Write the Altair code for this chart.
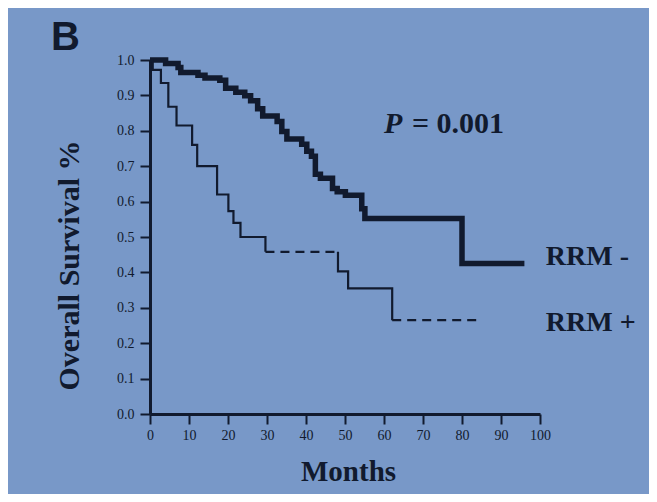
import altair as alt
import pandas as pd

# ---- data ----
rrm_neg_months = [0, 4.0, 7.2, 7.9, 12.3, 14.1, 17.9, 19.4, 22.0, 24.3, 25.8, 27.6, 28.9,
                  32.6, 33.8, 35.1, 38.9, 40.2, 41.4, 42.4, 43.7, 46.8, 48.0, 50.1,
                  54.3, 55.1, 80.0, 96.0]
rrm_neg_surv = [1.0, 0.99, 0.979, 0.965, 0.957, 0.949, 0.943, 0.92, 0.909, 0.899, 0.885, 0.862, 0.842,
                0.826, 0.798, 0.777, 0.762, 0.742, 0.728, 0.677, 0.666, 0.637, 0.628, 0.618,
                0.58, 0.552, 0.425, 0.425]

rrm_pos_months = [0, 0.7, 2.8, 4.7, 6.8, 10.8, 12.1, 17.2, 20.1, 21.4, 23.2, 29.6,
                  48.2, 48.2, 50.8, 62.1, 84.6]
rrm_pos_surv = [1.0, 0.972, 0.935, 0.868, 0.815, 0.76, 0.70, 0.62, 0.573, 0.54, 0.50, 0.458,
                0.458, 0.403, 0.355, 0.265, 0.265]
# line style of the step that starts at each point (last point has none)
rrm_pos_style = ["solid"] * 11 + ["dashed", "solid", "solid", "solid", "dashed"]

x_ticks = [0, 10, 20, 30, 40, 50, 60, 70, 80, 90, 100]
y_ticks = [0.0, 0.1, 0.2, 0.3, 0.4, 0.5, 0.6, 0.7, 0.8, 0.9, 1.0]

INK = "#111a2e"
BG = "#7898c8"
SERIF = "Liberation Serif"

# ---- build tables ----
neg_df = pd.DataFrame({"month": rrm_neg_months, "surv": rrm_neg_surv,
                       "idx": range(len(rrm_neg_months))})

rows = []
seg = 0
for i in range(len(rrm_pos_months) - 1):
    if i > 0 and rrm_pos_style[i] != rrm_pos_style[i - 1]:
        seg += 1
    rows.append({"month": rrm_pos_months[i], "surv": rrm_pos_surv[i],
                 "seg": seg, "style": rrm_pos_style[i], "idx": i * 2})
    rows.append({"month": rrm_pos_months[i + 1], "surv": rrm_pos_surv[i + 1],
                 "seg": seg, "style": rrm_pos_style[i], "idx": i * 2 + 1})
pos_df = pd.DataFrame(rows)

xs = alt.Scale(domain=[0, 100], nice=False)
ys = alt.Scale(domain=[0, 1], nice=False)

x_axis = alt.Axis(values=x_ticks, title="Months", labelFont=SERIF, labelFontSize=14,
                  labelColor=INK, tickColor=INK, domainColor=INK, tickSize=10,
                  tickWidth=2, domainWidth=3, grid=False, labelPadding=4,
                  labelOverlap=False, labelFlush=False,
                  titleFont=SERIF, titleFontSize=29, titleFontWeight="bold",
                  titleColor=INK, titleBaseline="alphabetic", titleY=66, titleX=198)
y_axis = alt.Axis(values=y_ticks, format=".1f", title="Overall Survival %",
                  labelFont=SERIF, labelFontSize=14, labelColor=INK, tickColor=INK,
                  domainColor=INK, tickSize=10, tickWidth=2, domainWidth=3, grid=False,
                  labelPadding=6, labelOverlap=False, labelFlush=False,
                  titleFont=SERIF, titleFontSize=30,
                  titleFontWeight="bold", titleColor=INK, titleAngle=-90,
                  titleAlign="center", titleBaseline="middle", titleX=-81, titleY=205)

X = alt.X("month:Q", scale=xs, axis=x_axis)
Y = alt.Y("surv:Q", scale=ys, axis=y_axis)

neg_line = alt.Chart(neg_df).mark_line(interpolate="step-after", color=INK,
                                       strokeWidth=5.5, strokeJoin="miter").encode(
    x=X, y=Y, order="idx:Q",
)

pos_line = alt.Chart(pos_df).mark_line(interpolate="step-after", color=INK,
                                       strokeWidth=2.2).encode(
    x=X, y=Y,
    detail="seg:N",
    order="idx:Q",
    strokeDash=alt.StrokeDash("style:N", legend=None,
                              scale=alt.Scale(domain=["solid", "dashed"],
                                              range=[[1, 0], [9, 6]])),
)

labels_df = pd.DataFrame({"month": [101.5, 101.5], "surv": [0.443, 0.257],
                          "text": ["RRM -", "RRM +"]})
labels = alt.Chart(labels_df).mark_text(align="left", baseline="middle", font=SERIF,
                                        fontSize=28, fontWeight="bold", color=INK).encode(
    x=X, y=Y, text="text:N")

p_df = pd.DataFrame({"month": [60.0], "surv": [0.819]})
p_italic = alt.Chart(p_df).mark_text(align="left", baseline="middle", font=SERIF,
                                     fontSize=30, fontWeight="bold", fontStyle="italic",
                                     color=INK, text="P").encode(x=X, y=Y)
p_rest = alt.Chart(p_df).mark_text(align="left", baseline="middle", font=SERIF,
                                   fontSize=30, fontWeight="bold", color=INK,
                                   text="= 0.001", dx=28).encode(x=X, y=Y)

panel = alt.Chart(pd.DataFrame({"t": ["B"]})).mark_text(
    align="left", baseline="alphabetic", font="Liberation Sans", fontSize=40,
    fontWeight="bold", color=INK).encode(
    text="t:N", x=alt.value(-99), y=alt.value(-10))

chart = alt.layer(neg_line, pos_line, labels, p_italic, p_rest, panel).properties(
    width=390, height=354, background=BG,
    autosize=alt.AutoSizeParams(type="none"),
    padding={"left": 142, "top": 52, "right": 109, "bottom": 80},
).configure_view(stroke=None)

chart.save("out.html", embed_options={"renderer": "svg", "actions": False})
